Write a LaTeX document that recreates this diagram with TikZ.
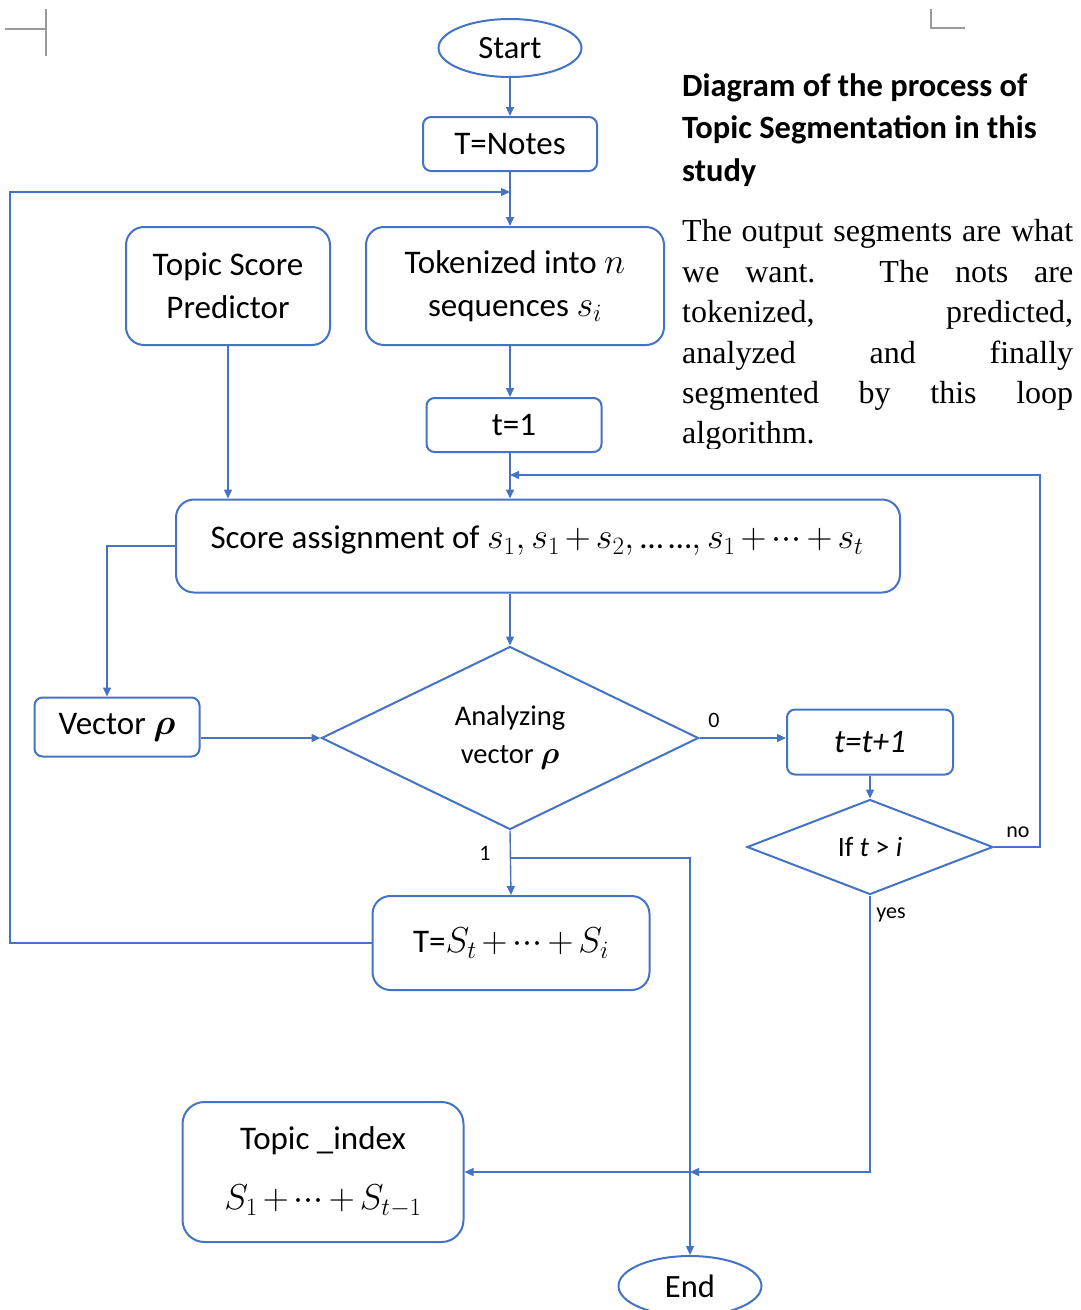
\RequirePackage{fix-cm}
\documentclass[tikz,border=0pt]{standalone}
\usepackage{amsmath}
\usepackage{fontspec}
\setmainfont{Carlito}
\newfontfamily\bodyserif{Liberation Serif}
\usetikzlibrary{shapes.geometric,arrows.meta}
% slightly larger math against the sans labels, set a little tighter
\DeclareMathSizes{33}{36}{25}{19}
\DeclareMathSizes{28.5}{31}{22}{17}
\medmuskip=2.5mu plus 1mu minus 1mu
\newcommand{\tightdots}{\mathinner{\cdotp\mkern-3mu\cdotp\mkern-3mu\cdotp}}
\definecolor{flow}{HTML}{4472C4}
\definecolor{cropgray}{HTML}{9A9A9A}
\tikzset{
  conn/.style={draw=flow, line width=1.4pt, -{Triangle[length=9pt,width=8pt]}},
  box/.style={draw=flow, line width=2pt, rectangle, rounded corners=#1, inner sep=0pt,
    align=center, text=black, font=\fontsize{33}{43}\selectfont},
  box/.default=10pt,
  dec/.style={draw=flow, line width=2pt, diamond, inner sep=0pt, align=center, text=black},
  term/.style={draw=flow, line width=2pt, ellipse, inner sep=0pt, text=black,
    font=\fontsize{32.5}{38}\selectfont},
  tag/.style={inner sep=0pt, font=\fontsize{22}{24}\selectfont},
  headline/.style={anchor=base west, inner sep=0pt, font=\fontsize{32.5}{38}\selectfont\bfseries},
  bodyline/.style={anchor=base west, inner sep=0pt, font=\bodyserif\fontsize{32}{40}\selectfont},
}
\begin{document}
\begin{tikzpicture}[x=1pt,y=-1pt]
\useasboundingbox (0,0) rectangle (1081,1310);

% page corner marks
\draw[cropgray, line width=1.2pt] (5,29) -- (46,29) (46,9) -- (46,56);
\draw[cropgray, line width=1.2pt] (931,9) -- (931,28) -- (965,28);

% nodes
\node[term, minimum width=143pt, minimum height=58pt] (start) at (510,48) {Start};
\node[box=8pt, minimum width=174pt, minimum height=54pt] (notes) at (510,144) {T=Notes};
\node[box=18pt, minimum width=204pt, minimum height=118pt] (tsp) at (228,286) {Topic Score\\Predictor};
\node[box=18pt, minimum width=298pt, minimum height=118pt] (tok) at (515,286) {Tokenized into $n$\\sequences $s_i$};
\node[box=8pt, minimum width=175pt, minimum height=54pt] (t1) at (514,425) {t=1};
\node[box=18pt, minimum width=724pt, minimum height=93pt] (score) at (538,546) {};
\node[inner sep=0pt, font=\fontsize{33}{43}\selectfont] (scorelbl) at (537,541)
  {Score assignment of $s_1, s_1+s_2, \text{…\,…}, s_1+\tightdots+s_t$};
\node[box=8pt, minimum width=165pt, minimum height=59pt] (vec) at (117,727) {Vector $\boldsymbol{\rho}$};
\node[dec, minimum width=377pt, minimum height=183pt, font=\fontsize{28.5}{38}\selectfont] (ana) at (510,738) {Analyzing\\vector $\boldsymbol{\rho}$};
\node[box=8pt, minimum width=166pt, minimum height=65pt] (inc) at (870,742) {\itshape t=t+1};
\node[dec, minimum width=246pt, minimum height=95pt, font=\fontsize{28}{32}\selectfont] (ifd) at (870,847) {If \textit{t} > \textit{i}};
\node[box=18pt, minimum width=277pt, minimum height=94pt] (tsi) at (511,943) {T=$S_t+\tightdots+S_i$};
\node[box=22pt, minimum width=281pt, minimum height=140pt, font=\fontsize{33}{60}\selectfont] (idx) at (323,1172) {Topic \_index\\$S_1+\tightdots+S_{t-1}$};
\node[term, minimum width=143pt, minimum height=60pt] (end) at (690,1286) {End};

% routing points
\coordinate (feed) at (510,192);
\coordinate (rail) at (10,192);
\coordinate (backin) at (510,475);
\coordinate (backrail) at (1040,475);
\coordinate (split) at (510,858);
\coordinate (merge) at (end.north |- idx.east);

% connectors
\draw[conn] (start.south) -- (notes.north);
\draw[conn] (notes.south) -- (notes.south |- tok.north);
\draw[conn] (tsi.west) -| (rail) -- (feed);
\draw[conn] (notes.south |- tok.south) -- (notes.south |- t1.north);
\draw[conn] (notes.south |- t1.south) -- (notes.south |- score.north);
\draw[conn] (ifd.east) -| (backrail) -- (backin);
\draw[conn] (tsp.south) -- (tsp.south |- score.north);
\draw[conn] (score.west) -| ([xshift=-10pt]vec.north);
\draw[conn] (notes.south |- score.south) -- (ana.north);
\draw[conn] (vec.east |- ana.west) -- (ana.west);
\draw[conn] (ana.east) -- (ana.east -| inc.west);
\draw[conn] (inc.south) -- (ifd.north);
\draw[conn] (ana.south) -- (tsi.north);
\draw[conn] (split) -| (end.north);
\draw[conn] (ifd.south) |- (merge);
\draw[conn] (merge) -- (idx.east);

% branch labels
\node[tag] (lab0) at (714,720) {0};
\node[tag] (lab1) at (485,853) {1};
\node[tag] (labno) at (1018,832) {no};
\node[tag] (labyes) at (891,915) {yes};

% caption
\node[headline] (head1) at (682,96) {Diagram of the process of};
\node[headline] (head2) at (682,138) {Topic Segmentation in this};
\node[headline] (head3) at (682,181) {study};

\node[bodyline] (body1) at (682,241) {\makebox[391pt][s]{The output segments are what}};
\node[bodyline] (body2) at (682,282) {\makebox[391pt][s]{we want. The nots are}};
\node[bodyline] (body3) at (682,322) {\makebox[391pt][s]{tokenized, predicted,}};
\node[bodyline] (body4) at (682,363) {\makebox[391pt][s]{analyzed and finally}};
\node[bodyline] (body5) at (682,403) {\makebox[391pt][s]{segmented by this loop}};
\begin{scope}
  \clip (670,410) rectangle (1081,448);
  \node[bodyline] (body6) at (682,443) {algorithm.};
\end{scope}
\end{tikzpicture}
\end{document}
